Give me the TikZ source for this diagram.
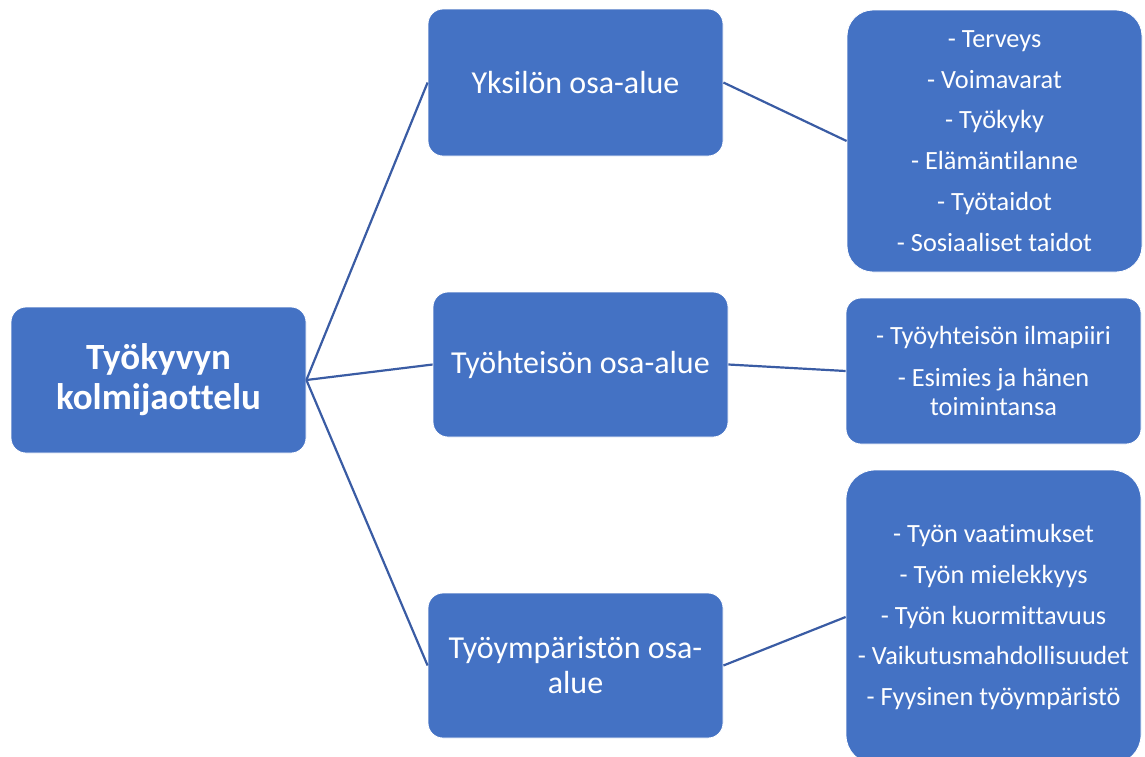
\documentclass[tikz,border=0pt]{standalone}
\usepackage{fontspec}
\setmainfont{Carlito}[Ligatures=CommonOff]
\definecolor{boxblue}{HTML}{4472C4}
\definecolor{linkblue}{HTML}{3A5CA4}
\begin{document}
\begin{tikzpicture}[x=1pt,y=-1pt,
  box/.style={fill=boxblue, draw=white, line width=0.8pt, text=white,
    align=center, inner sep=0pt, minimum width=295pt, rounded corners=15pt},
  roottext/.style={font=\fontsize{37}{40}\selectfont\bfseries},
  midtext/.style={font=\fontsize{32}{35}\selectfont},
  listtext/.style={font=\fontsize{26.3}{28.5}\selectfont},
  link/.style={draw=linkblue, line width=2.2pt}]
\clip (0,0) rectangle (1145,756);
\useasboundingbox (0,0) rectangle (1145,756);

% root
\node[box, roottext, minimum height=146pt] (root) at (158.5,380)
  {Työkyvyn\\kolmijaottelu};

% three areas
\node[box, midtext, minimum height=147pt] (ind) at (575.5,82.5)
  {Yksilön osa-alue};
\node[box, midtext, minimum height=145pt] (com) at (580.5,364.5)
  {Työhteisön osa-alue};
\node[box, midtext, minimum height=145pt] (env) at (575.5,665.5)
  {Työympäristön osa-\\alue};

% item lists
\node[box, listtext, minimum height=262pt, rounded corners=26pt] (indl) at (994.5,141)
  {- Terveys\\[12.3pt]- Voimavarat\\[12.3pt]- Työkyky\\[12.3pt]- Elämäntilanne\\[12.3pt]- Työtaidot\\[12.3pt]- Sosiaaliset taidot};
\node[box, listtext, minimum height=146pt] (coml) at (993.5,371)
  {- Työyhteisön ilmapiiri\\[13.5pt]- Esimies ja hänen\\toimintansa};
\node[box, listtext, minimum height=294pt, rounded corners=29pt] (envl) at (993.5,617)
  {- Työn vaatimukset\\[12.3pt]- Työn mielekkyys\\[12.3pt]- Työn kuormittavuus\\[12.3pt]- Vaikutusmahdollisuudet\\[12.3pt]- Fyysinen työympäristö};

% connectors
\draw[link] (root.east) -- (ind.west);
\draw[link] (root.east) -- (com.west);
\draw[link] (root.east) -- (env.west);
\draw[link] (ind.east) -- (indl.west);
\draw[link] (com.east) -- (coml.west);
\draw[link] (env.east) -- (envl.west);
\end{tikzpicture}
\end{document}
